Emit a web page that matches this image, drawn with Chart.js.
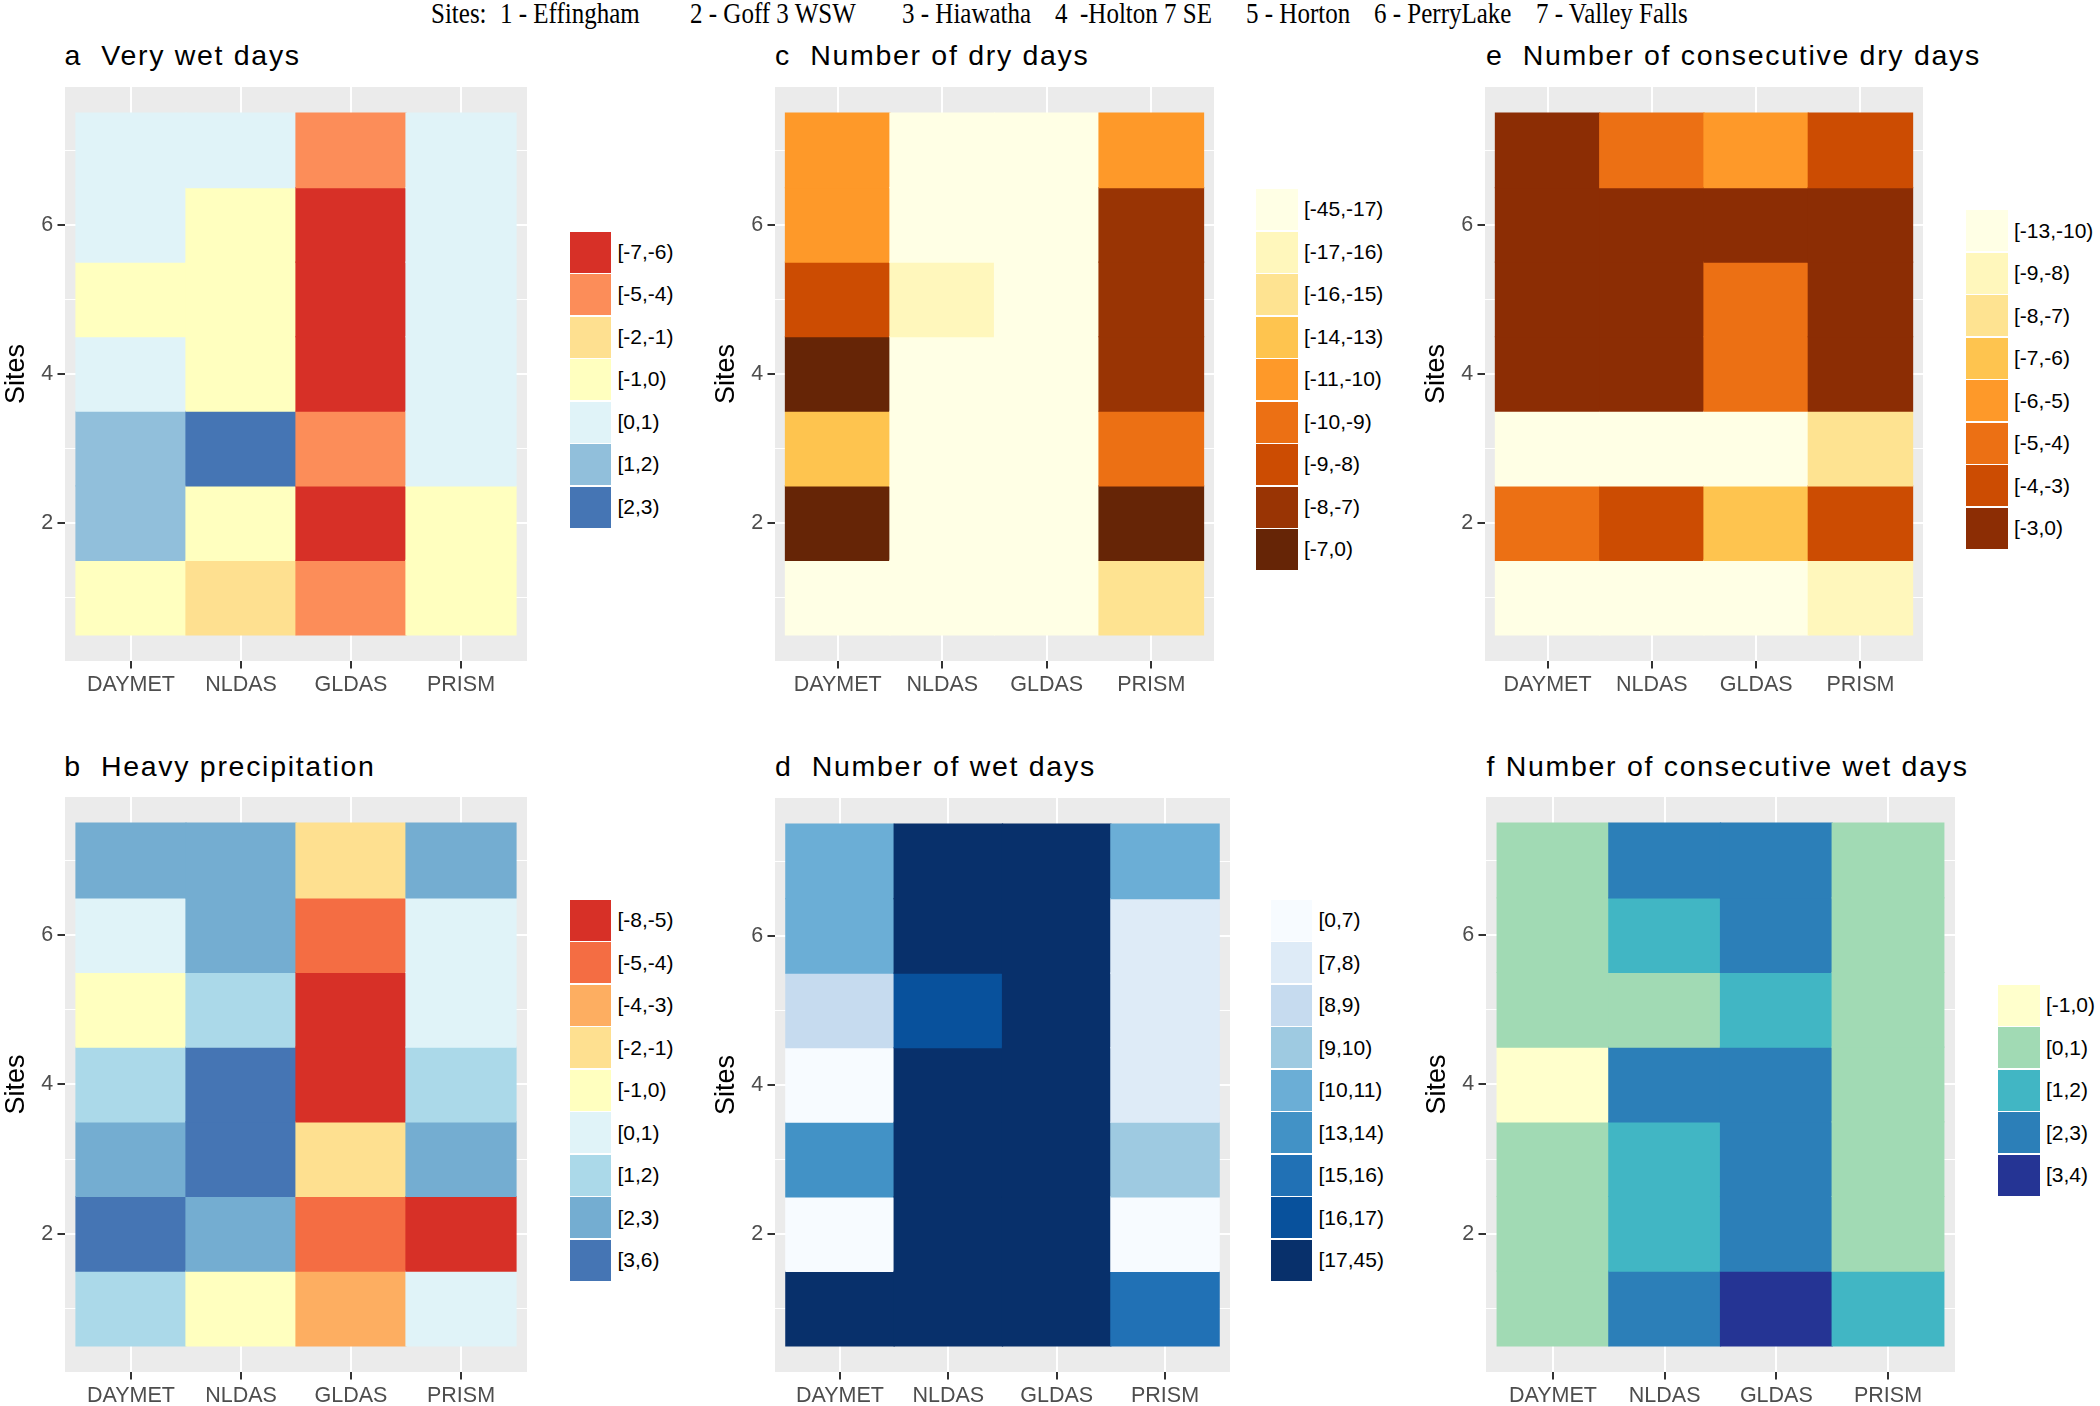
<!DOCTYPE html>
<html><head><meta charset="utf-8">
<script src="https://cdn.jsdelivr.net/npm/chart.js@4"></script>
<style>
body{margin:0;background:#fff;}
#wrap{position:relative;width:2100px;height:1406px;overflow:hidden;background:#fff;}
canvas{position:absolute;}
.title{position:absolute;font-family:'Liberation Sans',Arial,sans-serif;font-size:28.5px;line-height:28px;letter-spacing:1.7px;color:#000;white-space:pre;}
.hdr{position:absolute;font-family:'Liberation Serif','Times New Roman',serif;font-size:25px;line-height:25px;color:#000;white-space:pre;transform:scaleY(1.15);transform-origin:0 100%;}
.key{position:absolute;width:41.5px;height:41px;}
.klab{position:absolute;font-family:'Liberation Sans',Arial,sans-serif;font-size:21px;line-height:42.5px;height:42.5px;color:#000;white-space:pre;}
</style></head><body><div id="wrap"></div>
<script>
// ---------- shared axes ----------
const SOURCES = ['DAYMET', 'NLDAS', 'GLDAS', 'PRISM'];
const SITES = [1, 2, 3, 4, 5, 6, 7];
const Y_TICKS = [2, 4, 6];
const HEADER_ITEMS = ['Sites:', '1 - Effingham', '2 - Goff 3 WSW', '3 - Hiawatha', '4  -Holton 7 SE', '5 - Horton', '6 - PerryLake', '7 - Valley Falls'];

// ---------- a: Very wet days ----------
const A_BINS = ['[-7,-6)', '[-5,-4)', '[-2,-1)', '[-1,0)', '[0,1)', '[1,2)', '[2,3)'];
const A_COLORS = ['#D73027', '#FC8D59', '#FEE090', '#FFFFBF', '#E0F3F8', '#91BFDB', '#4575B4'];
// values per source, sites 1..7
const A_DAYMET = ['[-1,0)', '[1,2)', '[1,2)', '[0,1)', '[-1,0)', '[0,1)', '[0,1)'];
const A_NLDAS  = ['[-2,-1)', '[-1,0)', '[2,3)', '[-1,0)', '[-1,0)', '[-1,0)', '[0,1)'];
const A_GLDAS  = ['[-5,-4)', '[-7,-6)', '[-5,-4)', '[-7,-6)', '[-7,-6)', '[-7,-6)', '[-5,-4)'];
const A_PRISM  = ['[-1,0)', '[-1,0)', '[0,1)', '[0,1)', '[0,1)', '[0,1)', '[0,1)'];

// ---------- b: Heavy precipitation ----------
const B_BINS = ['[-8,-5)', '[-5,-4)', '[-4,-3)', '[-2,-1)', '[-1,0)', '[0,1)', '[1,2)', '[2,3)', '[3,6)'];
const B_COLORS = ['#D73027', '#F46D43', '#FDAE61', '#FEE090', '#FFFFBF', '#E0F3F8', '#ABD9E9', '#74ADD1', '#4575B4'];
const B_DAYMET = ['[1,2)', '[3,6)', '[2,3)', '[1,2)', '[-1,0)', '[0,1)', '[2,3)'];
const B_NLDAS  = ['[-1,0)', '[2,3)', '[3,6)', '[3,6)', '[1,2)', '[2,3)', '[2,3)'];
const B_GLDAS  = ['[-4,-3)', '[-5,-4)', '[-2,-1)', '[-8,-5)', '[-8,-5)', '[-5,-4)', '[-2,-1)'];
const B_PRISM  = ['[0,1)', '[-8,-5)', '[2,3)', '[1,2)', '[0,1)', '[0,1)', '[2,3)'];

// ---------- c: Number of dry days ----------
const C_BINS = ['[-45,-17)', '[-17,-16)', '[-16,-15)', '[-14,-13)', '[-11,-10)', '[-10,-9)', '[-9,-8)', '[-8,-7)', '[-7,0)'];
const C_COLORS = ['#FFFFE5', '#FFF7BC', '#FEE391', '#FEC44F', '#FE9929', '#EC7014', '#CC4C02', '#993404', '#662506'];
const C_DAYMET = ['[-45,-17)', '[-7,0)', '[-14,-13)', '[-7,0)', '[-9,-8)', '[-11,-10)', '[-11,-10)'];
const C_NLDAS  = ['[-45,-17)', '[-45,-17)', '[-45,-17)', '[-45,-17)', '[-17,-16)', '[-45,-17)', '[-45,-17)'];
const C_GLDAS  = ['[-45,-17)', '[-45,-17)', '[-45,-17)', '[-45,-17)', '[-45,-17)', '[-45,-17)', '[-45,-17)'];
const C_PRISM  = ['[-16,-15)', '[-7,0)', '[-10,-9)', '[-8,-7)', '[-8,-7)', '[-8,-7)', '[-11,-10)'];

// ---------- d: Number of wet days ----------
const D_BINS = ['[0,7)', '[7,8)', '[8,9)', '[9,10)', '[10,11)', '[13,14)', '[15,16)', '[16,17)', '[17,45)'];
const D_COLORS = ['#F7FBFF', '#DEEBF7', '#C6DBEF', '#9ECAE1', '#6BAED6', '#4292C6', '#2171B5', '#08519C', '#08306B'];
const D_DAYMET = ['[17,45)', '[0,7)', '[13,14)', '[0,7)', '[8,9)', '[10,11)', '[10,11)'];
const D_NLDAS  = ['[17,45)', '[17,45)', '[17,45)', '[17,45)', '[16,17)', '[17,45)', '[17,45)'];
const D_GLDAS  = ['[17,45)', '[17,45)', '[17,45)', '[17,45)', '[17,45)', '[17,45)', '[17,45)'];
const D_PRISM  = ['[15,16)', '[0,7)', '[9,10)', '[7,8)', '[7,8)', '[7,8)', '[10,11)'];

// ---------- e: Number of consecutive dry days ----------
const E_BINS = ['[-13,-10)', '[-9,-8)', '[-8,-7)', '[-7,-6)', '[-6,-5)', '[-5,-4)', '[-4,-3)', '[-3,0)'];
const E_COLORS = ['#FFFFE5', '#FFF7BC', '#FEE391', '#FEC44F', '#FE9929', '#EC7014', '#CC4C02', '#8C2D04'];
const E_DAYMET = ['[-13,-10)', '[-5,-4)', '[-13,-10)', '[-3,0)', '[-3,0)', '[-3,0)', '[-3,0)'];
const E_NLDAS  = ['[-13,-10)', '[-4,-3)', '[-13,-10)', '[-3,0)', '[-3,0)', '[-3,0)', '[-5,-4)'];
const E_GLDAS  = ['[-13,-10)', '[-7,-6)', '[-13,-10)', '[-5,-4)', '[-5,-4)', '[-3,0)', '[-6,-5)'];
const E_PRISM  = ['[-9,-8)', '[-4,-3)', '[-8,-7)', '[-3,0)', '[-3,0)', '[-3,0)', '[-4,-3)'];

// ---------- f: Number of consecutive wet days ----------
const F_BINS = ['[-1,0)', '[0,1)', '[1,2)', '[2,3)', '[3,4)'];
const F_COLORS = ['#FFFFCC', '#A1DAB4', '#41B6C4', '#2C7FB8', '#253494'];
const F_DAYMET = ['[0,1)', '[0,1)', '[0,1)', '[-1,0)', '[0,1)', '[0,1)', '[0,1)'];
const F_NLDAS  = ['[2,3)', '[1,2)', '[1,2)', '[2,3)', '[0,1)', '[1,2)', '[2,3)'];
const F_GLDAS  = ['[3,4)', '[2,3)', '[2,3)', '[2,3)', '[1,2)', '[2,3)', '[2,3)'];
const F_PRISM  = ['[1,2)', '[0,1)', '[0,1)', '[0,1)', '[0,1)', '[0,1)', '[0,1)'];

// ---------- layout (pixels) ----------
const FONT = "'Liberation Sans', Arial, sans-serif";
const YAXW = 65, XAXH = 45;
const PANELS = [
  {title:'a  Very wet days', tx:64.5, tb:65, L:65, R:527, T:87, B:661, bins:A_BINS, colors:A_COLORS, values:[A_DAYMET,A_NLDAS,A_GLDAS,A_PRISM], lx:569.5, lc:379.7},
  {title:'b  Heavy precipitation', tx:64.2, tb:776, L:65, R:527, T:797, B:1372, bins:B_BINS, colors:B_COLORS, values:[B_DAYMET,B_NLDAS,B_GLDAS,B_PRISM], lx:569.5, lc:1090.4},
  {title:'c  Number of dry days', tx:775, tb:65, L:775, R:1214, T:87, B:661, bins:C_BINS, colors:C_COLORS, values:[C_DAYMET,C_NLDAS,C_GLDAS,C_PRISM], lx:1256, lc:379.7},
  {title:'d  Number of wet days', tx:775, tb:776, L:775, R:1230, T:798, B:1372, bins:D_BINS, colors:D_COLORS, values:[D_DAYMET,D_NLDAS,D_GLDAS,D_PRISM], lx:1270.5, lc:1090.4},
  {title:'e  Number of consecutive dry days', tx:1486, tb:65, L:1485, R:1923, T:87, B:661, bins:E_BINS, colors:E_COLORS, values:[E_DAYMET,E_NLDAS,E_GLDAS,E_PRISM], lx:1966, lc:379.7},
  {title:'f Number of consecutive wet days', tx:1486.5, tb:776, L:1486, R:1955, T:797, B:1372, bins:F_BINS, colors:F_COLORS, values:[F_DAYMET,F_NLDAS,F_GLDAS,F_PRISM], lx:1998, lc:1090.4}
];
const HEADER_X = [431, 500, 690, 902, 1055, 1246, 1374, 1536];

const wrap = document.getElementById('wrap');

const panelBg = {
  id: 'panelBg',
  beforeDraw(chart) {
    const {ctx, chartArea: a} = chart;
    ctx.save();
    ctx.fillStyle = '#EBEBEB';
    ctx.fillRect(a.left, a.top, a.right - a.left, a.bottom - a.top);
    ctx.restore();
  }
};

function el(cls, text, left, top) {
  const d = document.createElement('div');
  d.className = cls;
  if (text !== null) d.textContent = text;
  d.style.left = left + 'px';
  d.style.top = top + 'px';
  wrap.appendChild(d);
  return d;
}

// header
HEADER_ITEMS.forEach((t, i) => el('hdr', t, HEADER_X[i], 3));

function noPad(s) { s.paddingTop = 0; s.paddingBottom = 0; s.paddingLeft = 0; s.paddingRight = 0; }
const isInt = v => Math.abs(v - Math.round(v)) < 1e-9;
const tv = c => (c && c.tick) ? c.tick.value : NaN;

function makePanel(p) {
  el('title', p.title, p.tx, p.tb - 23.7);

  const canvas = document.createElement('canvas');
  const W = p.R - p.L + YAXW, H = p.B - p.T + XAXH;
  canvas.width = W; canvas.height = H;
  canvas.style.left = (p.L - YAXW) + 'px';
  canvas.style.top = p.T + 'px';
  canvas.style.width = W + 'px';
  canvas.style.height = H + 'px';
  wrap.appendChild(canvas);

  const pts = [], cols = [];
  p.values.forEach((col, ci) => col.forEach((bin, si) => {
    pts.push({x: ci + 1, y: [SITES[si] - 0.5, SITES[si] + 0.5]});
    cols.push(p.colors[p.bins.indexOf(bin)]);
  }));

  new Chart(canvas, {
    type: 'bar',
    data: {datasets: [{data: pts, backgroundColor: cols, borderWidth: 0, inflateAmount: 0.6,
      barPercentage: 1, categoryPercentage: 1}]},
    options: {
      responsive: false, animation: false, devicePixelRatio: 1, events: [],
      layout: {padding: 0},
      plugins: {legend: {display: false}, tooltip: {enabled: false}, title: {display: false}},
      scales: {
        x: {
          type: 'linear', min: 0.4, max: 4.6, offset: false,
          afterFit: s => { s.height = XAXH; noPad(s); },
          ticks: {stepSize: 1, callback: v => isInt(v) ? (SOURCES[Math.round(v) - 1] || '') : '',
            autoSkip: false, maxRotation: 0, minRotation: 0, includeBounds: false,
            padding: 3.5, color: '#4D4D4D', font: {family: FONT, size: 21.5}},
          grid: {offset: false, drawOnChartArea: true, drawTicks: true,
            color: c => isInt(tv(c)) ? '#FFFFFF' : 'rgba(0,0,0,0)',
            lineWidth: 2, tickLength: 7.5, tickWidth: 2,
            tickColor: c => isInt(tv(c)) ? '#333333' : 'rgba(0,0,0,0)'},
          border: {display: false}
        },
        y: {
          type: 'linear', min: 0.15, max: 7.85,
          afterFit: s => { s.width = YAXW; noPad(s); },
          ticks: {stepSize: 1, includeBounds: false,
            callback: v => (isInt(v) && Y_TICKS.includes(Math.round(v))) ? String(Math.round(v)) : '',
            autoSkip: false, padding: 4.3, color: '#4D4D4D', font: {family: FONT, size: 21.5}},
          grid: {offset: false,
            color: c => isInt(tv(c)) ? '#FFFFFF' : 'rgba(0,0,0,0)',
            lineWidth: c => Y_TICKS.includes(Math.round(tv(c))) && isInt(tv(c)) ? 2 : 1,
            drawTicks: true, tickLength: 7.5, tickWidth: 2,
            tickColor: c => (isInt(tv(c)) && Y_TICKS.includes(Math.round(tv(c)))) ? '#333333' : 'rgba(0,0,0,0)'},
          border: {display: false},
          title: {display: true, text: 'Sites', color: '#000', font: {family: FONT, size: 27}, padding: {top: 0.8, bottom: 0}}
        }
      }
    },
    plugins: [panelBg]
  });

  // legend
  const n = p.bins.length, pitch = 42.5;
  const top0 = p.lc - n * pitch / 2;
  p.bins.forEach((b, i) => {
    const k = el('key', null, p.lx, top0 + i * pitch + 0.75);
    k.style.background = p.colors[i];
    el('klab', b, p.lx + 48, top0 + i * pitch);
  });
}

Chart.defaults.font.family = FONT;
PANELS.forEach(makePanel);
</script></body></html>
